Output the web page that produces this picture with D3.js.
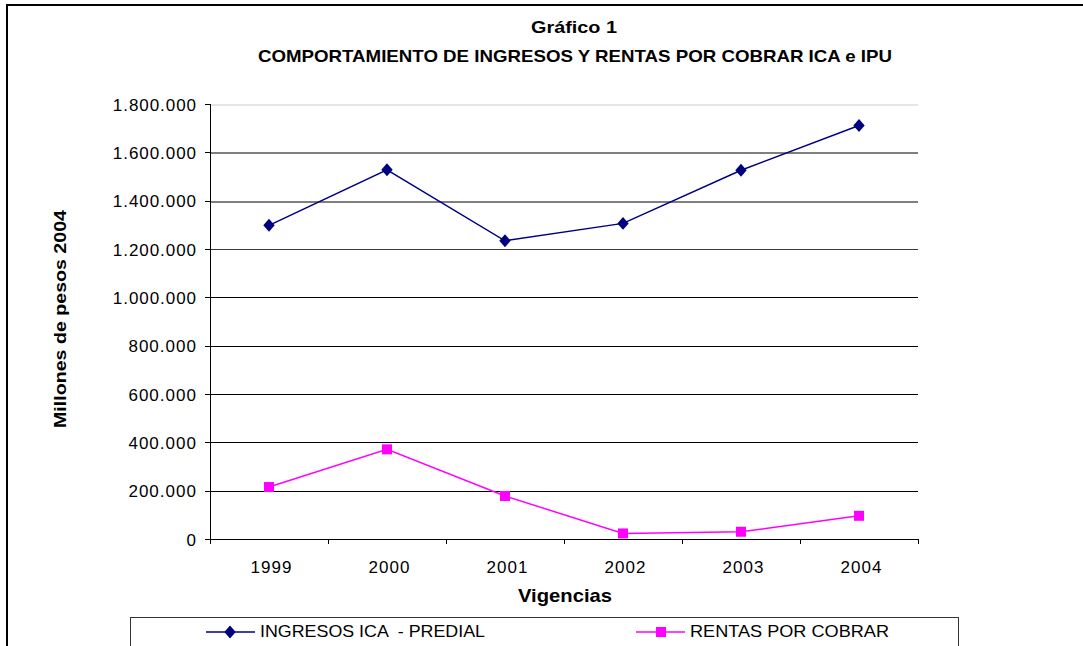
<!DOCTYPE html>
<html>
<head>
<meta charset="utf-8">
<script src="https://cdn.jsdelivr.net/npm/d3@7"></script>
<style>
  body { margin: 0; background: #fff; }
  svg { display: block; font-family: Arial, "Liberation Sans", sans-serif; }
  text { white-space: pre; }
</style>
</head>
<body>
<div id="chart"></div>
<script>
const years = ['1999', '2000', '2001', '2002', '2003', '2004'];
const ingresos = [1298000, 1528000, 1234000, 1306000, 1526000, 1711000];
const rentas = [215000, 371000, 178000, 23000, 30000, 96000];
const yTicks = [0, 200000, 400000, 600000, 800000, 1000000, 1200000, 1400000, 1600000, 1800000];
const seriesNames = ['INGRESOS ICA  - PREDIAL', 'RENTAS POR COBRAR'];

const W = 1083, H = 646;
const margin = { top: 104, right: 165, bottom: 107, left: 210 };
const iW = W - margin.left - margin.right;
const iH = H - margin.top - margin.bottom;
const FONT = 'Arial, "Liberation Sans", sans-serif';

const svg = d3.select('#chart').append('svg').attr('width', W).attr('height', H);

// outer frame (only top/left visible in the crop)
svg.append('rect').attr('x', 7).attr('y', 5).attr('width', W + 20).attr('height', H + 20)
  .attr('fill', 'none').attr('stroke', '#000').attr('stroke-width', 2);

svg.append('text').attr('x', 574).attr('y', 33).attr('text-anchor', 'middle')
  .attr('font-weight', 'bold').attr('font-size', '17px')
  .attr('textLength', 86).attr('lengthAdjust', 'spacingAndGlyphs').text('Gráfico 1');
svg.append('text').attr('x', 575).attr('y', 62).attr('text-anchor', 'middle')
  .attr('font-weight', 'bold').attr('font-size', '17px')
  .attr('textLength', 634).attr('lengthAdjust', 'spacingAndGlyphs')
  .text('COMPORTAMIENTO DE INGRESOS Y RENTAS POR COBRAR ICA e IPU');

const g = svg.append('g').attr('transform', `translate(${margin.left},${margin.top})`);

const x = d3.scaleBand().domain(years).range([0, iW]);
const y = d3.scaleLinear().domain([0, 1800000]).range([iH, 0]);
const fmt = v => d3.format(',')(v).replace(/,/g, '.');

// gridlines: the scan fades out toward the top
const gridColor = v => v >= 1800000 ? '#e6e6e6' : v >= 1400000 ? '#7f7f7f' : v >= 1200000 ? '#3a3a3a' : '#000';
g.selectAll('.grid').data(yTicks.filter(v => v > 0)).join('line')
  .attr('x1', 0).attr('x2', iW).attr('y1', d => Math.round(y(d)) + 0.5).attr('y2', d => Math.round(y(d)) + 0.5)
  .attr('stroke', d => gridColor(d)).attr('stroke-width', d => d >= 1400000 ? 2 : 1.3)
  .attr('shape-rendering', 'crispEdges');

const yAxis = g.append('g').call(d3.axisLeft(y).tickValues(yTicks).tickFormat(fmt).tickSize(5).tickPadding(9));
yAxis.select('.domain').attr('stroke', '#000').attr('shape-rendering', 'crispEdges');
yAxis.selectAll('line').attr('stroke', '#000').attr('shape-rendering', 'crispEdges');
yAxis.selectAll('text').attr('font-size', '17px').attr('fill', '#000').attr('dy', '0.36em')
  .attr('font-family', FONT)
  .each(function () { this.setAttribute('textLength', this.getComputedTextLength() * 1.1); });

const xAxis = g.append('g').attr('transform', `translate(0,${iH})`)
  .call(d3.axisBottom(x).tickSize(0));
xAxis.select('.domain').attr('stroke', '#000').attr('shape-rendering', 'crispEdges');
xAxis.selectAll('text').attr('font-size', '17px').attr('fill', '#000')
  .attr('font-family', FONT).attr('y', 34).attr('dy', 0).attr('dx', 2)
  .each(function () { this.setAttribute('textLength', this.getComputedTextLength() * 1.08); });
// category separator ticks
g.selectAll('.sep').data(d3.range(years.length + 1)).join('line')
  .attr('x1', d => d * x.bandwidth()).attr('x2', d => d * x.bandwidth())
  .attr('y1', iH).attr('y2', iH + 5).attr('stroke', '#000').attr('shape-rendering', 'crispEdges');

svg.append('text').attr('x', 565).attr('y', 602).attr('text-anchor', 'middle')
  .attr('font-weight', 'bold').attr('font-size', '19px')
  .attr('textLength', 94).attr('lengthAdjust', 'spacingAndGlyphs').text('Vigencias');
svg.append('text').attr('transform', 'translate(66,319) rotate(-90)').attr('text-anchor', 'middle')
  .attr('font-weight', 'bold').attr('font-size', '17px')
  .attr('textLength', 218).attr('lengthAdjust', 'spacingAndGlyphs').text('Millones de pesos 2004');

const cx = d => x(d) + x.bandwidth() / 2;
const line = vals => d3.line().x((d, i) => cx(years[i])).y(d => y(d))(vals);

const diamond = d3.symbol().type(d3.symbolSquare).size(84);

g.append('path').attr('d', line(ingresos)).attr('fill', 'none').attr('stroke', '#000080').attr('stroke-width', 1.5);
g.selectAll('.dia').data(ingresos).join('path')
  .attr('d', diamond).attr('fill', '#000080')
  .attr('transform', (d, i) => `translate(${cx(years[i])},${y(d)}) scale(0.88,1) rotate(45)`);

g.append('path').attr('d', line(rentas)).attr('fill', 'none').attr('stroke', '#ff00ff').attr('stroke-width', 1.5);
g.selectAll('.sq').data(rentas).join('rect')
  .attr('x', (d, i) => cx(years[i]) - 5).attr('y', d => y(d) - 5)
  .attr('width', 10).attr('height', 10).attr('fill', '#ff00ff');

// legend
svg.append('rect').attr('x', 130.5).attr('y', 617.5).attr('width', 828).attr('height', 60)
  .attr('fill', '#fff').attr('stroke', '#333').attr('stroke-width', 1);
const legY = 632;
const leg = [
  { x: 206, color: '#000080', name: seriesNames[0], shape: 'diamond', w: 225 },
  { x: 636, color: '#ff00ff', name: seriesNames[1], shape: 'square', w: 199 }
];
leg.forEach(l => {
  svg.append('line').attr('x1', l.x).attr('x2', l.x + 49).attr('y1', legY).attr('y2', legY)
    .attr('stroke', l.color).attr('stroke-width', 1.5);
  if (l.shape === 'diamond') {
    svg.append('path').attr('d', diamond).attr('fill', l.color)
      .attr('transform', `translate(${l.x + 24},${legY}) scale(0.88,1) rotate(45)`);
  } else {
    svg.append('rect').attr('x', l.x + 20).attr('y', legY - 5).attr('width', 10).attr('height', 10).attr('fill', l.color);
  }
  svg.append('text').attr('x', l.x + 54).attr('y', legY + 5).attr('font-size', '17px')
    .attr('textLength', l.w).attr('lengthAdjust', 'spacingAndGlyphs').text(l.name);
});
</script>
</body>
</html>
